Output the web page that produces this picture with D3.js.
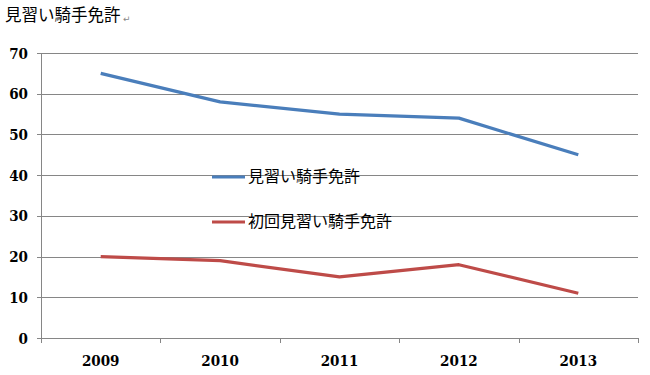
<!DOCTYPE html>
<html><head><meta charset="utf-8">
<script src="https://cdn.jsdelivr.net/npm/d3@7"></script>
<style>body{margin:0;background:#fff}</style>
</head><body>
<svg id="c" width="650" height="375"></svg>
<script>
const years = ["2009","2010","2011","2012","2013"];
const seriesNames = ["見習い騎手免許","初回見習い騎手免許"];
const series1 = [65,58,55,54,45];
const series2 = [20,19,15,18,11];
const yTicks = [0,10,20,30,40,50,60,70];
const colors = ["#4a7ebb","#be4b48"];

(function(){
const svg = d3.select("#c");
const pl = 41, pr = 638, pt = 53, pb = 338;
const x = d3.scaleBand().domain(years).range([pl,pr]);
const y = d3.scaleLinear().domain([0,70]).range([pb,pt]);
const numFont = "'DejaVu Serif Condensed', 'DejaVu Serif', serif";

svg.append("text").attr("x",5).attr("y",21)
  .attr("font-family","Noto Sans CJK JP").attr("font-size",16.5).attr("fill","#000")
  .text("見習い騎手免許");
svg.append("text").attr("x",123).attr("y",22)
  .attr("font-family","DejaVu Sans").attr("font-size",9).attr("fill","#888").text("↵");

svg.append("g").selectAll("line").data(yTicks).join("line")
  .attr("x1",37).attr("x2",pr).attr("y1",d=>Math.round(y(d))+0.5).attr("y2",d=>Math.round(y(d))+0.5)
  .attr("stroke","#868686").attr("stroke-width",1);
svg.append("line").attr("x1",pl+0.5).attr("x2",pl+0.5).attr("y1",pt).attr("y2",pb)
  .attr("stroke","#868686");
const bounds = years.map(d=>x(d)).concat([pr]);
svg.append("g").selectAll("line").data(bounds).join("line")
  .attr("x1",d=>Math.round(d)+0.5).attr("x2",d=>Math.round(d)+0.5).attr("y1",pb).attr("y2",pb+5)
  .attr("stroke","#868686");

svg.append("g").selectAll("text").data(yTicks).join("text")
  .attr("x",28).attr("y",d=>y(d)+5.5).attr("text-anchor","end")
  .attr("font-family",numFont).attr("font-weight","bold").attr("font-size",15)
  .text(d=>d);
svg.append("g").selectAll("text").data(years).join("text")
  .attr("x",d=>x(d)+x.bandwidth()/2).attr("y",366).attr("text-anchor","middle")
  .attr("font-family",numFont).attr("font-weight","bold").attr("font-size",15)
  .text(d=>d);

const line = d3.line().x((d,i)=>x(years[i])+x.bandwidth()/2).y(d=>y(d));
[series1,series2].forEach((s,k)=>{
  svg.append("path").attr("d",line(s)).attr("fill","none")
    .attr("stroke",colors[k]).attr("stroke-width",3.2).attr("stroke-linejoin","round");
});

const ly = [177,222];
seriesNames.forEach((n,k)=>{
  svg.append("line").attr("x1",212).attr("x2",245).attr("y1",ly[k]).attr("y2",ly[k])
    .attr("stroke",colors[k]).attr("stroke-width",3.2);
  svg.append("text").attr("x",248).attr("y",ly[k]+5)
    .attr("font-family","Noto Sans CJK JP").attr("font-size",16).text(n);
});
})();
</script>
</body></html>
